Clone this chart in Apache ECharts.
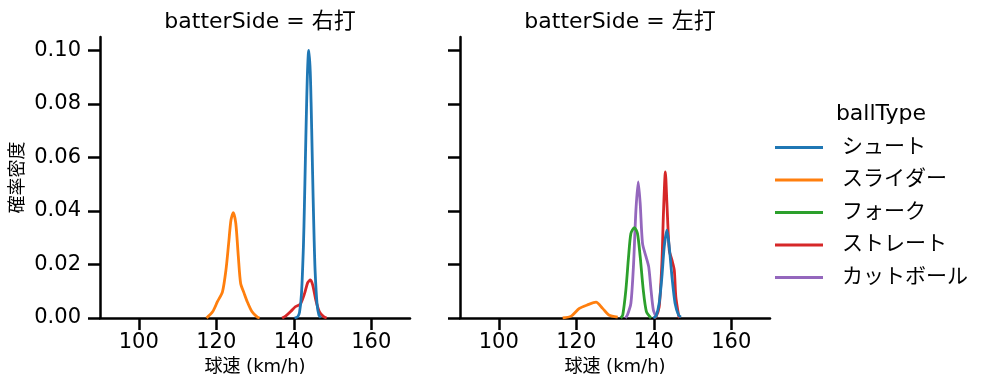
<!DOCTYPE html>
<html>
<head>
<meta charset="utf-8">
<script src="https://cdn.jsdelivr.net/npm/echarts@6/dist/echarts.min.js"></script>
<style>html,body{margin:0;padding:0;background:#fff;}#c{width:997px;height:391px;}</style>
</head>
<body>
<div id="c"></div>
<script>
const ballTypes = ['シュート', 'スライダー', 'フォーク', 'ストレート', 'カットボール'];
const colors = ['#1f77b4', '#ff7f0e', '#2ca02c', '#d62728', '#9467bd'];
const panelTitles = ['batterSide = 右打', 'batterSide = 左打'];
const xTicks = [100, 120, 140, 160];
const yTicks = [0, 0.02, 0.04, 0.06, 0.08, 0.10];

// Left panel (右打)
const rShootX = [140.2, 141, 141.5, 142, 142.5, 142.75, 143, 143.25, 143.5, 143.75, 143.9, 144.25, 144.5, 144.75, 145, 145.25, 145.5, 146, 146.5, 147];
const rShootY = [0, 0.0004, 0.0022, 0.0092, 0.027, 0.0418, 0.059, 0.0757, 0.090, 0.0985, 0.100, 0.0923, 0.079, 0.062, 0.045, 0.030, 0.018, 0.0054, 0.0011, 0.0002];
const rSliderX = [117.5, 119.1, 120.3, 121.6, 122.5, 123.2, 123.8, 124.4, 125.05, 125.7, 126.3, 127.2, 128.0, 129.2, 130.6, 131.2];
const rSliderY = [0, 0.0024, 0.0061, 0.0098, 0.0179, 0.0279, 0.0366, 0.0394, 0.0353, 0.0229, 0.0129, 0.0092, 0.0061, 0.0024, 0.0003, 0];
const rStraightX = [137.0, 137.9, 139.2, 140.4, 141.7, 142.8, 143.6, 144.3, 144.9, 145.7, 146.6, 147.7, 148.5];
const rStraightY = [0, 0.0007, 0.0024, 0.0042, 0.0052, 0.0092, 0.0132, 0.0142, 0.0123, 0.0067, 0.0024, 0.0005, 0];

// Right panel (左打)
const lShootX = [139.9, 140.6, 141.4, 142.1, 142.7, 143.4, 144.0, 144.7, 145.5, 146.4, 147.0];
const lShootY = [0, 0.0007, 0.0055, 0.0154, 0.0266, 0.0328, 0.0266, 0.0154, 0.0055, 0.0011, 0.0003];
const lSliderX = [116.5, 118.7, 120.8, 122.9, 125.1, 126.8, 128.4, 130.7];
const lSliderY = [0, 0.0007, 0.0036, 0.0049, 0.0059, 0.0036, 0.0011, 0.0003];
const lForkX = [131.5, 132.0, 132.8, 133.5, 134.1, 135.0, 135.8, 136.5, 137.3, 138.1, 139.1, 139.3];
const lForkY = [0, 0.0011, 0.0104, 0.0229, 0.0316, 0.0338, 0.0316, 0.0229, 0.0104, 0.0024, 0.0003, 0];
const lStraightX = [140.1, 140.6, 141.4, 142.1, 142.5, 143.0, 143.4, 144.0, 144.7, 145.3, 145.7, 146.4, 146.6];
const lStraightY = [0, 0.0005, 0.0042, 0.0204, 0.039, 0.0546, 0.0428, 0.0254, 0.0216, 0.0179, 0.0079, 0.0011, 0];
const lCutterX = [132.7, 133.2, 134.1, 134.8, 135.4, 136.0, 136.5, 137.1, 138.0, 138.7, 139.3, 139.9, 140.6];
const lCutterY = [0, 0.0011, 0.0055, 0.0204, 0.0403, 0.0509, 0.0428, 0.0279, 0.0229, 0.0191, 0.0104, 0.003, 0.0005];

function pairs(xs, ys) { return xs.map((x, i) => [x, ys[i]]); }

const panels = [
  [[0, rShootX, rShootY], [1, rSliderX, rSliderY], [3, rStraightX, rStraightY]],
  [[0, lShootX, lShootY], [1, lSliderX, lSliderY], [2, lForkX, lForkY], [3, lStraightX, lStraightY], [4, lCutterX, lCutterY]]
];

const series = [];
panels.forEach((list, p) => {
  list.slice().reverse().forEach(([k, xs, ys]) => {
    series.push({
      name: ballTypes[k], type: 'line', xAxisIndex: p, yAxisIndex: p,
      data: pairs(xs, ys), showSymbol: false, symbol: 'none', smooth: 0.25,
      lineStyle: { color: colors[k], width: 2.8 }, itemStyle: { color: colors[k] },
      animation: false, silent: true
    });
  });
});

const font = '"DejaVu Sans", "Noto Sans CJK JP", sans-serif';
const grids = [
  { left: 100, top: 37, width: 310, height: 281 },
  { left: 460, top: 37, width: 310, height: 281 }
];

function xAxis(i) {
  return {
    type: 'value', gridIndex: i, min: 90, max: 170,
    name: '球速 (km/h)', nameLocation: 'middle', nameGap: 40,
    nameTextStyle: { fontFamily: font, fontSize: 18, color: '#000' },
    axisLine: { show: true, onZero: false, lineStyle: { color: '#000', width: 2.5 } },
    axisTick: { show: true, length: 12, lineStyle: { color: '#000', width: 2.5 }, customValues: xTicks },
    axisLabel: { fontFamily: font, fontSize: 21, color: '#000', margin: 14, customValues: xTicks },
    splitLine: { show: false }
  };
}
function yAxis(i) {
  return {
    type: 'value', gridIndex: i, min: 0, max: 0.105,
    name: i === 0 ? '確率密度' : '', nameLocation: 'middle', nameGap: 73, nameRotate: 90,
    nameTextStyle: { fontFamily: font, fontSize: 18, color: '#000' },
    axisLine: { show: true, lineStyle: { color: '#000', width: 2.5 } },
    axisTick: { show: true, length: 12, lineStyle: { color: '#000', width: 2.5 }, customValues: yTicks },
    axisLabel: { show: i === 0, fontFamily: font, fontSize: 21, color: '#000', margin: 19,
      customValues: yTicks, formatter: v => v.toFixed(2) },
    splitLine: { show: false }
  };
}

const chart = echarts.init(document.getElementById('c'), null, { renderer: 'canvas' });
chart.setOption({
  backgroundColor: '#fff',
  animation: false,
  title: [
    { text: panelTitles[0], left: 255, top: 6, textAlign: 'center',
      textStyle: { fontFamily: font, fontSize: 22, fontWeight: 'normal', color: '#000' } },
    { text: panelTitles[1], left: 615, top: 6, textAlign: 'center',
      textStyle: { fontFamily: font, fontSize: 22, fontWeight: 'normal', color: '#000' } },
    { text: 'ballType', left: 876, top: 98, textAlign: 'center',
      textStyle: { fontFamily: font, fontSize: 22, fontWeight: 'normal', color: '#000' } }
  ],
  legend: {
    data: ballTypes, orient: 'vertical', left: 770, top: 132,
    itemWidth: 48, itemHeight: 3, itemGap: 11.5, icon: 'rect',
    textStyle: { fontFamily: font, fontSize: 21, color: '#000', padding: [0, 0, 0, 14] },
    selectedMode: false
  },
  grid: grids,
  xAxis: [xAxis(0), xAxis(1)],
  yAxis: [yAxis(0), yAxis(1)],
  series: series
});
</script>
</body>
</html>
